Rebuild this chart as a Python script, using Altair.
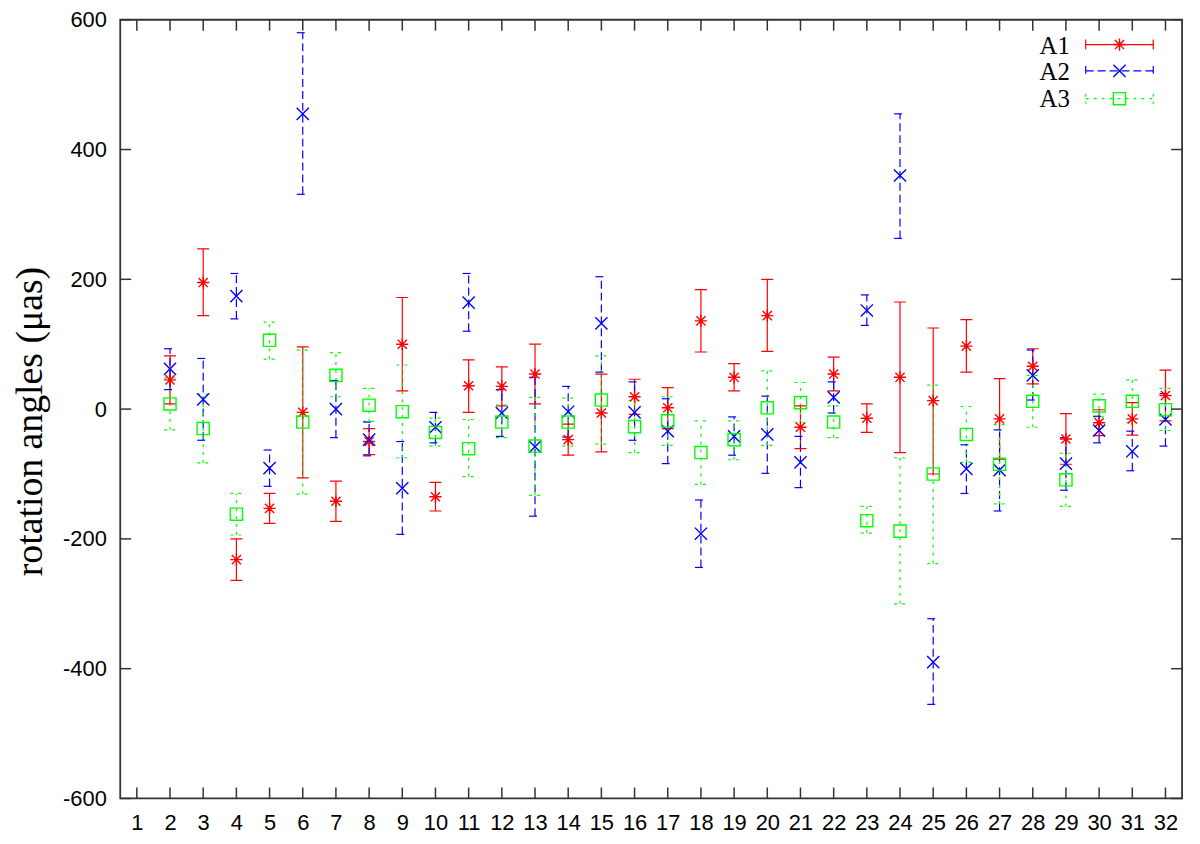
import altair as alt
import pandas as pd

# ---------------- data ----------------
positions = list(range(2, 33))

a1_val = [45, 195, -232, -153, -5, -142, -50, 100, -135, 36, 35, 54, -47, -6, 19, 2,
          136, 49, 144, -28, 54, -14, 49, 13, 97, -15, 66, -46, -21, -15, 21]
a1_lo = [8, 144, -264, -176, -106, -173, -70, 28, -157, -5, 5, 8, -71, -66, -8, -30,
         88, 28, 89, -61, 28, -36, -67, -100, 57, -77, 39, -85, -41, -40, -18]
a1_hi = [82, 247, -200, -130, 96, -111, -30, 172, -113, 76, 65, 100, -23, 54, 46, 33,
         184, 70, 200, 5, 80, 8, 165, 125, 138, 47, 93, -7, -1, 10, 60]

a2_val = [62, 15, 174, -91, 455, 0, -47, -122, -28, 164, -6, -58, -4, 132, -5, -34,
          -192, -42, -39, -82, 18, 152, 360, -390, -92, -94, 52, -84, -33, -65, -16]
a2_lo = [30, -48, 139, -119, 331, -44, -72, -193, -52, 120, -42, -165, -43, 57, -48, -84,
         -244, -71, -99, -121, -6, 129, 263, -455, -130, -157, 14, -125, -52, -95, -57]
a2_hi = [93, 78, 209, -63, 580, 44, -20, -50, -5, 209, 30, 49, 35, 204, 42, 16,
         -140, -12, 20, -42, 42, 176, 455, -323, -55, -32, 91, -44, -11, -34, 24]

a3_val = [8, -30, -162, 106, -20, 52, 6, -4, -36, -61, -20, -57, -20, 14, -27, -18,
          -67, -47, 2, 10, -20, -172, -188, -100, -39, -85, 12, -109, 5, 12, -1]
a3_lo = [-32, -83, -194, 77, -131, 19, -19, -75, -57, -104, -44, -133, -57, -54, -67, -56,
         -116, -78, -56, -21, -44, -191, -300, -238, -82, -146, -28, -150, -12, -21, -33]
a3_hi = [48, 23, -130, 134, 91, 87, 32, 68, -14, -16, 6, 18, 17, 82, 13, 19,
         -18, -18, 59, 41, 5, -150, -75, 37, 4, -24, 52, -68, 23, 45, 32]

series_names = ["A1", "A2", "A3"]
x_tick_values = list(range(1, 33))
y_tick_values = [-600, -400, -200, 0, 200, 400, 600]
y_title = "rotation angles (μas)"

# ---------------- styles ----------------
W, H = 1069, 784
colors = ["#ff0000", "#0000ff", "#00ff00"]
dashes = [[1, 0], [8, 4], [3, 5]]
ASTER = "M-1,0L1,0M0,-1L0,1M-0.75,-0.75L0.75,0.75M-0.75,0.75L0.75,-0.75"
XCROSS = "M-1,-1L1,1M-1,1L1,-1"
shapes = [ASTER, XCROSS, "square"]

rows = []
for name, vals, los, his in zip(series_names,
                                [a1_val, a2_val, a3_val],
                                [a1_lo, a2_lo, a3_lo],
                                [a1_hi, a2_hi, a3_hi]):
    for x, v, lo, hi in zip(positions, vals, los, his):
        rows.append({"x": x, "series": name, "val": v, "lo": lo, "hi": hi})
df = pd.DataFrame(rows)

xscale = alt.Scale(domain=[0.5, 32.5], nice=False, zero=False)
yscale = alt.Scale(domain=[-600, 600], nice=False, zero=False)

x_axis = alt.Axis(values=x_tick_values, title=None, labelFont="Liberation Sans",
                  labelFontSize=22, labelColor="black", labelPadding=14,
                  ticks=False, domain=False, grid=False, labelFlush=False,
                  labelOverlap=False)
y_axis = alt.Axis(values=y_tick_values, title=y_title,
                  labelExpr="'' + datum.value",
                  labelFont="Liberation Sans", labelFontSize=22, labelColor="black",
                  labelPadding=14, ticks=False, domain=False, grid=False,
                  labelFlush=False,
                  titleFont="Liberation Serif", titleFontSize=38,
                  titleFontWeight="normal", titleColor="black",
                  titleAngle=270, titleAlign="center", titleBaseline="alphabetic",
                  titleX=-79, titleY=404)

def X(field):
    return alt.X(field, scale=xscale, axis=x_axis)

def Y(field):
    return alt.Y(field, scale=yscale, axis=y_axis)

color_enc = alt.Color("series:N", scale=alt.Scale(domain=series_names, range=colors), legend=None)
dash_enc = alt.StrokeDash("series:N", scale=alt.Scale(domain=series_names, range=dashes), legend=None)
shape_enc = alt.Shape("series:N", scale=alt.Scale(domain=series_names, range=shapes), legend=None)

base = alt.Chart(df)

bars = base.mark_rule(strokeWidth=1.2).encode(
    x=X("x:Q"), y=Y("lo:Q"), y2="hi:Q", color=color_enc, strokeDash=dash_enc,
)
caps_lo = base.mark_rule(strokeWidth=1.2, xOffset=-6, x2Offset=6).encode(
    x=X("x:Q"), x2="x:Q", y=Y("lo:Q"), color=color_enc, strokeDash=dash_enc,
)
caps_hi = base.mark_rule(strokeWidth=1.2, xOffset=-6, x2Offset=6).encode(
    x=X("x:Q"), x2="x:Q", y=Y("hi:Q"), color=color_enc, strokeDash=dash_enc,
)
points = base.mark_point(filled=False, size=150, strokeWidth=1.4, opacity=1).encode(
    x=X("x:Q"), y=Y("val:Q"), color=color_enc, shape=shape_enc,
)

# inward tick marks (gnuplot style)
ydf = pd.DataFrame({"v": y_tick_values})
xdf = pd.DataFrame({"v": x_tick_values})
tick_style = dict(color="#333333", strokeWidth=1.5)
yt_left = alt.Chart(ydf).mark_rule(**tick_style).encode(
    y=Y("v:Q"), x=alt.value(0), x2=alt.value(11))
yt_right = alt.Chart(ydf).mark_rule(**tick_style).encode(
    y=Y("v:Q"), x=alt.value(W - 11), x2=alt.value(W))
xt_bottom = alt.Chart(xdf).mark_rule(**tick_style).encode(
    x=X("v:Q"), y=alt.value(H - 11), y2=alt.value(H))
xt_top = alt.Chart(xdf).mark_rule(**tick_style).encode(
    x=X("v:Q"), y=alt.value(0), y2=alt.value(11))

# manual legend (top right)
legend_layers = []
leg_text_x = 956
leg_x1, leg_x2, leg_mx = 972, 1040, 1006
leg_line_y = [25, 51.5, 79.5]
leg_text_y = [34, 61, 88]
for i, name in enumerate(series_names):
    one = pd.DataFrame({"series": [name]})
    c = colors[i]
    d = dashes[i]
    ly = leg_line_y[i]
    legend_layers.append(alt.Chart(one).mark_text(
        align="right", baseline="alphabetic", font="Liberation Serif", fontSize=25,
        color="black").encode(text="series:N", x=alt.value(leg_text_x), y=alt.value(leg_text_y[i])))
    legend_layers.append(alt.Chart(one).mark_rule(color=c, strokeWidth=1.2, strokeDash=d).encode(
        x=alt.value(leg_x1), x2=alt.value(leg_x2), y=alt.value(ly)))
    for cx in (leg_x1, leg_x2):
        legend_layers.append(alt.Chart(one).mark_rule(color=c, strokeWidth=1.2, strokeDash=d).encode(
            x=alt.value(cx), y=alt.value(ly - 5), y2=alt.value(ly + 5)))
    legend_layers.append(alt.Chart(one).mark_point(
        shape=shapes[i], size=150, filled=False, color=c, strokeWidth=1.4, opacity=1).encode(
        x=alt.value(leg_mx), y=alt.value(ly)))

chart = alt.layer(
    bars, caps_lo, caps_hi, points, yt_left, yt_right, xt_bottom, xt_top, *legend_layers
).properties(
    width=W, height=H,
    background="white",
    autosize=alt.AutoSizeParams(type="none"),
    padding={"left": 113, "top": 9, "right": 10, "bottom": 40},
).configure_view(
    stroke="#333333", strokeWidth=1.8
)

chart.save("out.html", embed_options={"renderer": "svg", "actions": False})
